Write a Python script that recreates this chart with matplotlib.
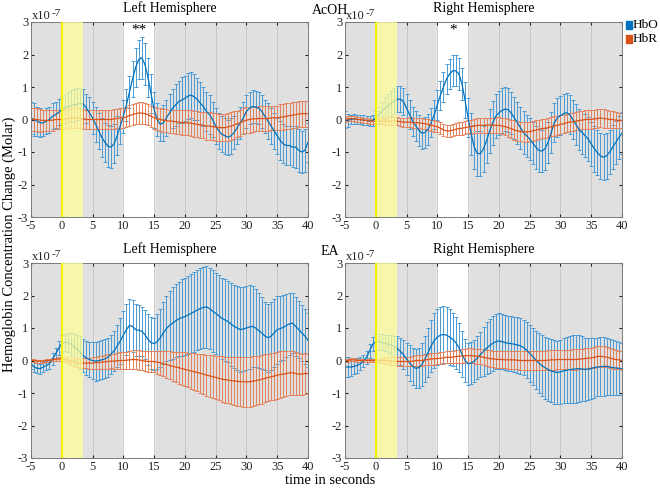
import numpy as np
import matplotlib
matplotlib.use("Agg")
import matplotlib.pyplot as plt
from matplotlib.patches import Rectangle

plt.rcParams['font.family'] = ['Liberation Serif', 'DejaVu Serif']
plt.rcParams['axes.unicode_minus'] = False

# time axis, one sample every 0.5 s from -5 to 40 s
t = np.arange(-5, 40.01, 0.5)

# values in units of 1e-7 Molar
acoh_left_hbo = [
    0.05, 0.0, -0.05, -0.1, -0.1, -0.05, 0.0, 0.1, 0.15, 0.22,
    0.3, 0.35, 0.4, 0.42, 0.45, 0.47, 0.5, 0.48, 0.35, 0.2,
    0.05, -0.15, -0.35, -0.55, -0.7, -0.82, -0.85, -0.75, -0.5, -0.2,
    0.1, 0.45, 0.85, 1.25, 1.6, 1.85, 1.9, 1.7, 1.3, 0.8,
    0.3, 0.0, -0.15, -0.1, 0.05, 0.2, 0.35, 0.45, 0.55, 0.6,
    0.65, 0.72, 0.75, 0.7, 0.62, 0.5, 0.4, 0.25, 0.15, 0.0,
    -0.2, -0.35, -0.45, -0.5, -0.55, -0.5, -0.4, -0.25, -0.1, 0.05,
    0.25, 0.35, 0.4, 0.38, 0.35, 0.25, 0.1, -0.05, -0.2, -0.35,
    -0.5, -0.65, -0.75, -0.8, -0.8, -0.85, -0.85, -0.95, -1.0, -0.95,
    -0.7]
acoh_left_hbo_err = [
    0.5, 0.5, 0.45, 0.45, 0.4, 0.4, 0.4, 0.4, 0.4, 0.4,
    0.4, 0.45, 0.45, 0.5, 0.5, 0.5, 0.45, 0.45, 0.45, 0.5,
    0.5, 0.55, 0.55, 0.6, 0.6, 0.65, 0.65, 0.6, 0.6, 0.55,
    0.5, 0.5, 0.5, 0.55, 0.6, 0.6, 0.65, 0.65, 0.6, 0.6,
    0.55, 0.5, 0.5, 0.55, 0.55, 0.6, 0.6, 0.65, 0.65, 0.7,
    0.7, 0.7, 0.7, 0.7, 0.65, 0.65, 0.6, 0.6, 0.6, 0.55,
    0.55, 0.55, 0.55, 0.55, 0.55, 0.55, 0.5, 0.5, 0.5, 0.5,
    0.5, 0.5, 0.5, 0.5, 0.5, 0.5, 0.5, 0.55, 0.55, 0.55,
    0.55, 0.6, 0.6, 0.6, 0.6, 0.6, 0.65, 0.65, 0.65, 0.65,
    0.6]
acoh_left_hbr = [
    0.0, 0.0, 0.0, -0.02, -0.03, -0.03, -0.03, -0.02, 0.0, 0.0,
    0.0, 0.02, 0.03, 0.05, 0.05, 0.05, 0.03, 0.02, 0.0, 0.0,
    0.0, 0.0, 0.0, 0.0, 0.0, 0.0, 0.0, 0.02, 0.03, 0.05,
    0.05, 0.08, 0.12, 0.15, 0.18, 0.2, 0.2, 0.18, 0.15, 0.1,
    0.05, 0.02, 0.0, -0.02, -0.03, -0.05, -0.05, -0.07, -0.08, -0.1,
    -0.1, -0.1, -0.12, -0.13, -0.15, -0.17, -0.18, -0.2, -0.2, -0.22,
    -0.23, -0.25, -0.25, -0.25, -0.23, -0.2, -0.17, -0.13, -0.1, -0.05,
    -0.02, 0.0, 0.02, 0.02, 0.03, 0.03, 0.03, 0.03, 0.05, 0.05,
    0.05, 0.07, 0.08, 0.1, 0.12, 0.13, 0.15, 0.17, 0.18, 0.18,
    0.18]
acoh_left_hbr_err = [
    0.35, 0.35, 0.35, 0.35, 0.33, 0.33, 0.32, 0.32, 0.3, 0.3,
    0.3, 0.3, 0.3, 0.3, 0.3, 0.3, 0.3, 0.3, 0.3, 0.3,
    0.3, 0.3, 0.3, 0.3, 0.3, 0.3, 0.3, 0.3, 0.3, 0.3,
    0.3, 0.3, 0.32, 0.32, 0.32, 0.33, 0.33, 0.33, 0.33, 0.33,
    0.33, 0.33, 0.35, 0.35, 0.35, 0.35, 0.35, 0.37, 0.37, 0.38,
    0.38, 0.38, 0.4, 0.4, 0.4, 0.4, 0.4, 0.42, 0.42, 0.42,
    0.42, 0.42, 0.42, 0.42, 0.42, 0.42, 0.42, 0.4, 0.4, 0.4,
    0.4, 0.4, 0.4, 0.38, 0.38, 0.38, 0.38, 0.38, 0.38, 0.38,
    0.38, 0.4, 0.4, 0.4, 0.4, 0.4, 0.4, 0.4, 0.4, 0.4,
    0.4]

acoh_right_hbo = [
    0.0, -0.02, 0.0, 0.02, 0.0, 0.0, -0.02, -0.03, -0.05, -0.03,
    0.05, 0.15, 0.25, 0.35, 0.42, 0.5, 0.57, 0.62, 0.63, 0.55,
    0.35, 0.15, -0.05, -0.2, -0.33, -0.42, -0.4, -0.3, -0.1, 0.15,
    0.45, 0.75, 1.0, 1.25, 1.4, 1.5, 1.5, 1.4, 1.1, 0.6,
    0.05, -0.45, -0.85, -1.05, -1.05, -0.9, -0.65, -0.35, -0.1, 0.1,
    0.2, 0.28, 0.32, 0.3, 0.2, 0.05, -0.1, -0.25, -0.4, -0.5,
    -0.6, -0.72, -0.85, -0.95, -0.97, -0.9, -0.7, -0.4, -0.1, 0.05,
    0.12, 0.18, 0.21, 0.15, 0.0, -0.15, -0.3, -0.4, -0.5, -0.6,
    -0.75, -0.9, -1.02, -1.12, -1.16, -1.12, -1.0, -0.85, -0.7, -0.55,
    -0.42]
acoh_right_hbo_err = [
    0.25, 0.2, 0.15, 0.15, 0.15, 0.15, 0.15, 0.15, 0.15, 0.18,
    0.2, 0.25, 0.3, 0.33, 0.35, 0.38, 0.4, 0.4, 0.4, 0.42,
    0.43, 0.45, 0.45, 0.47, 0.48, 0.48, 0.48, 0.48, 0.45, 0.45,
    0.45, 0.45, 0.45, 0.47, 0.47, 0.48, 0.48, 0.48, 0.5, 0.55,
    0.6, 0.65, 0.68, 0.7, 0.7, 0.7, 0.7, 0.68, 0.68, 0.68,
    0.68, 0.68, 0.68, 0.68, 0.66, 0.65, 0.65, 0.65, 0.65, 0.65,
    0.65, 0.65, 0.66, 0.66, 0.66, 0.65, 0.63, 0.62, 0.6, 0.6,
    0.6, 0.6, 0.6, 0.6, 0.6, 0.62, 0.63, 0.65, 0.66, 0.68,
    0.68, 0.7, 0.7, 0.7, 0.7, 0.7, 0.68, 0.68, 0.66, 0.65,
    0.65]
acoh_right_hbr = [
    0.0, 0.02, 0.03, 0.02, 0.0, 0.0, -0.02, -0.03, -0.05, -0.05,
    -0.05, -0.05, -0.05, -0.05, -0.05, -0.05, -0.05, -0.05, -0.07, -0.08,
    -0.08, -0.08, -0.1, -0.1, -0.1, -0.12, -0.13, -0.15, -0.17, -0.2,
    -0.22, -0.27, -0.32, -0.35, -0.35, -0.33, -0.3, -0.28, -0.27, -0.25,
    -0.23, -0.22, -0.2, -0.18, -0.18, -0.18, -0.17, -0.17, -0.18, -0.18,
    -0.18, -0.2, -0.22, -0.25, -0.28, -0.32, -0.35, -0.37, -0.38, -0.38,
    -0.37, -0.35, -0.33, -0.3, -0.28, -0.27, -0.25, -0.22, -0.2, -0.18,
    -0.15, -0.13, -0.1, -0.08, -0.07, -0.05, -0.03, -0.02, 0.0, 0.0,
    0.0, 0.02, 0.03, 0.05, 0.03, 0.02, 0.0, 0.0, -0.02, -0.03,
    -0.03]
acoh_right_hbr_err = [
    0.08, 0.08, 0.08, 0.08, 0.08, 0.08, 0.08, 0.08, 0.08, 0.08,
    0.08, 0.1, 0.1, 0.12, 0.12, 0.12, 0.13, 0.13, 0.13, 0.14,
    0.14, 0.15, 0.15, 0.15, 0.15, 0.16, 0.16, 0.17, 0.17, 0.17,
    0.17, 0.18, 0.18, 0.18, 0.18, 0.18, 0.18, 0.2, 0.2, 0.2,
    0.2, 0.22, 0.22, 0.22, 0.22, 0.23, 0.23, 0.23, 0.24, 0.25,
    0.25, 0.26, 0.27, 0.28, 0.28, 0.3, 0.3, 0.3, 0.3, 0.3,
    0.3, 0.3, 0.3, 0.3, 0.3, 0.3, 0.3, 0.3, 0.3, 0.3,
    0.3, 0.28, 0.28, 0.28, 0.28, 0.28, 0.28, 0.28, 0.28, 0.28,
    0.28, 0.28, 0.28, 0.28, 0.28, 0.27, 0.26, 0.25, 0.24, 0.23,
    0.23]

ea_left_hbo = [
    -0.1, -0.2, -0.24, -0.25, -0.2, -0.15, -0.1, 0.05, 0.2, 0.38,
    0.52, 0.56, 0.55, 0.5, 0.42, 0.35, 0.25, 0.15, 0.08, 0.03,
    0.0, -0.02, 0.0, 0.02, 0.05, 0.1, 0.2, 0.3, 0.45, 0.6,
    0.78, 0.95, 1.08, 1.05, 0.95, 0.93, 0.9, 0.8, 0.65, 0.55,
    0.52, 0.58, 0.7, 0.85, 0.98, 1.08, 1.15, 1.22, 1.28, 1.32,
    1.35, 1.4, 1.45, 1.5, 1.55, 1.6, 1.63, 1.65, 1.6, 1.52,
    1.45, 1.38, 1.3, 1.25, 1.2, 1.12, 1.05, 1.0, 0.95, 0.97,
    1.0, 1.03, 1.05, 1.0, 0.92, 0.85, 0.75, 0.7, 0.75, 0.85,
    0.95, 0.98, 1.02, 1.08, 1.13, 1.15, 1.05, 0.95, 0.85, 0.75,
    0.62]
ea_left_hbo_err = [
    0.15, 0.15, 0.15, 0.15, 0.15, 0.15, 0.15, 0.18, 0.2, 0.22,
    0.25, 0.27, 0.3, 0.35, 0.4, 0.45, 0.5, 0.5, 0.52, 0.55,
    0.58, 0.6, 0.6, 0.6, 0.6, 0.6, 0.6, 0.62, 0.65, 0.7,
    0.75, 0.78, 0.8, 0.8, 0.8, 0.78, 0.75, 0.75, 0.78, 0.8,
    0.8, 0.85, 0.9, 0.95, 1.0, 1.05, 1.1, 1.12, 1.15, 1.18,
    1.18, 1.2, 1.22, 1.23, 1.23, 1.25, 1.25, 1.25, 1.25, 1.25,
    1.25, 1.25, 1.25, 1.25, 1.25, 1.28, 1.28, 1.3, 1.3, 1.3,
    1.3, 1.28, 1.25, 1.2, 1.15, 1.1, 1.05, 1.05, 1.05, 1.05,
    1.05, 1.0, 1.0, 0.98, 0.95, 0.92, 0.9, 0.88, 0.86, 0.85,
    0.83]
ea_left_hbr = [
    0.0, 0.0, -0.02, -0.02, -0.02, 0.0, 0.0, 0.02, 0.03, 0.05,
    0.05, 0.03, 0.0, -0.03, -0.05, -0.07, -0.08, -0.08, -0.08, -0.08,
    -0.08, -0.07, -0.06, -0.05, -0.04, -0.03, -0.02, -0.02, -0.01, 0.0,
    0.0, 0.01, 0.02, 0.03, 0.03, 0.02, 0.0, -0.02, -0.03, -0.03,
    -0.03, -0.05, -0.07, -0.1, -0.12, -0.15, -0.18, -0.2, -0.22, -0.25,
    -0.27, -0.3, -0.32, -0.35, -0.37, -0.39, -0.42, -0.45, -0.47, -0.5,
    -0.52, -0.55, -0.57, -0.59, -0.6, -0.62, -0.63, -0.64, -0.65, -0.65,
    -0.66, -0.65, -0.64, -0.62, -0.6, -0.58, -0.55, -0.52, -0.5, -0.48,
    -0.45, -0.43, -0.42, -0.4, -0.38, -0.38, -0.4, -0.42, -0.42, -0.4,
    -0.4]
ea_left_hbr_err = [
    0.05, 0.05, 0.05, 0.05, 0.05, 0.05, 0.05, 0.05, 0.05, 0.05,
    0.05, 0.07, 0.08, 0.1, 0.12, 0.13, 0.15, 0.15, 0.16, 0.17,
    0.18, 0.19, 0.2, 0.2, 0.21, 0.22, 0.22, 0.23, 0.24, 0.25,
    0.25, 0.26, 0.27, 0.28, 0.29, 0.3, 0.3, 0.31, 0.32, 0.33,
    0.33, 0.35, 0.37, 0.39, 0.41, 0.43, 0.45, 0.47, 0.49, 0.5,
    0.52, 0.53, 0.55, 0.57, 0.58, 0.6, 0.62, 0.63, 0.65, 0.66,
    0.67, 0.68, 0.7, 0.71, 0.72, 0.73, 0.74, 0.75, 0.76, 0.77,
    0.77, 0.77, 0.77, 0.76, 0.75, 0.75, 0.74, 0.73, 0.72, 0.72,
    0.72, 0.72, 0.7, 0.7, 0.68, 0.67, 0.66, 0.65, 0.63, 0.62,
    0.6]

ea_right_hbo = [
    -0.2, -0.2, -0.2, -0.18, -0.15, -0.1, -0.02, 0.1, 0.3, 0.5,
    0.58, 0.58, 0.56, 0.53, 0.5, 0.47, 0.43, 0.37, 0.28, 0.18,
    0.05, -0.08, -0.18, -0.24, -0.22, -0.12, 0.05, 0.25, 0.45, 0.62,
    0.72, 0.78, 0.8, 0.78, 0.72, 0.65, 0.55, 0.4, 0.2, 0.0,
    -0.1, -0.08, -0.02, 0.08, 0.18, 0.28, 0.38, 0.46, 0.53, 0.58,
    0.6, 0.58, 0.55, 0.53, 0.52, 0.5, 0.48, 0.45, 0.4, 0.32,
    0.22, 0.12, 0.02, -0.08, -0.16, -0.22, -0.28, -0.32, -0.35, -0.37,
    -0.35, -0.32, -0.3, -0.28, -0.27, -0.26, -0.25, -0.26, -0.27, -0.26,
    -0.24, -0.22, -0.2, -0.19, -0.18, -0.18, -0.2, -0.22, -0.23, -0.24,
    -0.25]
ea_right_hbo_err = [
    0.3, 0.3, 0.28, 0.25, 0.22, 0.2, 0.18, 0.2, 0.22, 0.22,
    0.25, 0.25, 0.25, 0.25, 0.27, 0.3, 0.33, 0.38, 0.42, 0.45,
    0.5, 0.55, 0.58, 0.6, 0.62, 0.65, 0.7, 0.75, 0.8, 0.85,
    0.87, 0.88, 0.88, 0.87, 0.85, 0.82, 0.8, 0.75, 0.7, 0.67,
    0.65, 0.64, 0.64, 0.66, 0.7, 0.75, 0.8, 0.83, 0.85, 0.85,
    0.85, 0.85, 0.85, 0.85, 0.85, 0.85, 0.85, 0.85, 0.85, 0.85,
    0.87, 0.88, 0.9, 0.92, 0.93, 0.95, 0.96, 0.97, 0.98, 0.98,
    0.98, 1.0, 1.02, 1.04, 1.05, 1.05, 1.03, 1.0, 0.97, 0.95,
    0.93, 0.92, 0.9, 0.9, 0.9, 0.88, 0.86, 0.85, 0.83, 0.82,
    0.8]
ea_right_hbr = [
    0.0, 0.0, 0.02, 0.02, 0.0, 0.0, 0.0, 0.0, 0.0, 0.0,
    0.0, 0.0, 0.0, 0.0, 0.0, -0.02, -0.02, -0.03, -0.03, -0.03,
    -0.03, -0.03, -0.02, 0.0, 0.0, 0.0, 0.02, 0.03, 0.05, 0.05,
    0.06, 0.07, 0.08, 0.1, 0.1, 0.1, 0.12, 0.13, 0.14, 0.15,
    0.15, 0.15, 0.14, 0.13, 0.12, 0.1, 0.08, 0.06, 0.05, 0.04,
    0.03, 0.03, 0.02, 0.02, 0.02, 0.02, 0.01, 0.0, 0.0, 0.0,
    0.0, 0.0, 0.0, 0.0, 0.0, 0.0, 0.01, 0.02, 0.02, 0.03,
    0.03, 0.03, 0.03, 0.03, 0.03, 0.03, 0.04, 0.05, 0.06, 0.07,
    0.08, 0.1, 0.12, 0.13, 0.12, 0.1, 0.08, 0.05, 0.03, 0.02,
    0.0]
ea_right_hbr_err = [
    0.05, 0.05, 0.05, 0.05, 0.05, 0.05, 0.05, 0.05, 0.05, 0.05,
    0.05, 0.06, 0.08, 0.1, 0.11, 0.12, 0.13, 0.14, 0.15, 0.15,
    0.15, 0.15, 0.16, 0.16, 0.17, 0.17, 0.17, 0.18, 0.18, 0.18,
    0.18, 0.18, 0.18, 0.18, 0.19, 0.19, 0.2, 0.2, 0.21, 0.21,
    0.22, 0.22, 0.22, 0.23, 0.23, 0.24, 0.24, 0.25, 0.25, 0.26,
    0.26, 0.26, 0.26, 0.27, 0.27, 0.27, 0.28, 0.28, 0.28, 0.29,
    0.29, 0.29, 0.3, 0.3, 0.3, 0.3, 0.3, 0.3, 0.3, 0.3,
    0.3, 0.3, 0.3, 0.3, 0.31, 0.31, 0.31, 0.31, 0.32, 0.32,
    0.32, 0.32, 0.32, 0.32, 0.32, 0.31, 0.3, 0.3, 0.29, 0.28,
    0.28]

panel_titles = ['Left Hemisphere', 'Right Hemisphere']
stars = {(0, 0): '**', (0, 1): '*'}

HBO_COLOR = '#0072BD'
HBR_COLOR = '#D95319'


def draw_panel(ax, hbo, hbo_err, hbr, hbr_err, title, star=None):
    ax.set_facecolor('#e0e0e0')
    ax.axvspan(10, 15, color='white', zorder=0)
    for xv in range(0, 40, 5):
        ax.axvline(xv, color='#c4c4c4', lw=0.6, zorder=0.5)
    ax.errorbar(t, hbo, yerr=hbo_err, color=HBO_COLOR, ecolor='#4a9ad6',
                lw=0.9, elinewidth=0.7, capsize=1.6, capthick=0.7, zorder=2)
    ax.errorbar(t, hbr, yerr=hbr_err, color=HBR_COLOR, ecolor='#e5825a',
                lw=0.9, elinewidth=0.7, capsize=1.6, capthick=0.7, zorder=2)
    # stimulus window
    ax.axvspan(0, 3.5, color='#ffff9a', alpha=0.75, lw=0, zorder=3)
    ax.axvline(0.1, color='#f2f200', lw=1.5, zorder=3)
    ax.set_xlim(-5, 40)
    ax.set_ylim(-3, 3)
    ax.set_xticks(range(-5, 41, 5))
    ax.set_yticks(range(-3, 4))
    ax.tick_params(direction='in', length=2.5, labelsize=9, colors='#222222',
                   top=True, right=True, pad=2)
    for s in ax.spines.values():
        s.set_color('#7a7a7a')
        s.set_linewidth(0.7)
    ax.set_title(title, fontsize=10, pad=7)
    ax.text(0.005, 1.0, 'x10', transform=ax.transAxes, fontsize=9,
            ha='left', va='bottom', color='#222222')
    ax.text(0.075, 1.02, '-7', transform=ax.transAxes, fontsize=8,
            ha='left', va='bottom', color='#222222')
    if star:
        ax.text(12.5, 2.55, star, ha='center', va='bottom', fontsize=11)


fig = plt.figure(figsize=(6.6, 4.88), dpi=100)
lefts = [31 / 660, 345 / 660]
bottoms = [1 - 217 / 488, 1 - 458 / 488]
w = 277 / 660
h = 195 / 488

data = [
    [(acoh_left_hbo, acoh_left_hbo_err, acoh_left_hbr, acoh_left_hbr_err),
     (acoh_right_hbo, acoh_right_hbo_err, acoh_right_hbr, acoh_right_hbr_err)],
    [(ea_left_hbo, ea_left_hbo_err, ea_left_hbr, ea_left_hbr_err),
     (ea_right_hbo, ea_right_hbo_err, ea_right_hbr, ea_right_hbr_err)],
]

for r in range(2):
    for c in range(2):
        ax = fig.add_axes([lefts[c], bottoms[r], w, h])
        draw_panel(ax, *data[r][c], panel_titles[c], stars.get((r, c)))

fig.text(0.5, 1 - 10 / 488, 'AcOH', ha='center', va='center', fontsize=10)
fig.text(0.5, 1 - 251 / 488, 'EA', ha='center', va='center', fontsize=10)
fig.text(0.5, 1 - 481 / 488, 'time in seconds', ha='center', va='center', fontsize=10.5)
fig.text(9 / 660, 0.5, 'Hemoglobin Concentration Change (Molar)', rotation=90,
         ha='center', va='center', fontsize=10.5)

# legend
for k, (label, col) in enumerate([('HbO', HBO_COLOR), ('HbR', HBR_COLOR)]):
    yc = 1 - (25 + 14 * k) / 488
    fig.patches.append(Rectangle((626 / 660, yc - 3.5 / 488), 6 / 660, 7 / 488,
                                 transform=fig.transFigure, color=col))
    fig.text(633 / 660, yc, label, fontsize=9.5, ha='left', va='center')

fig.savefig('out.png', dpi=100)
